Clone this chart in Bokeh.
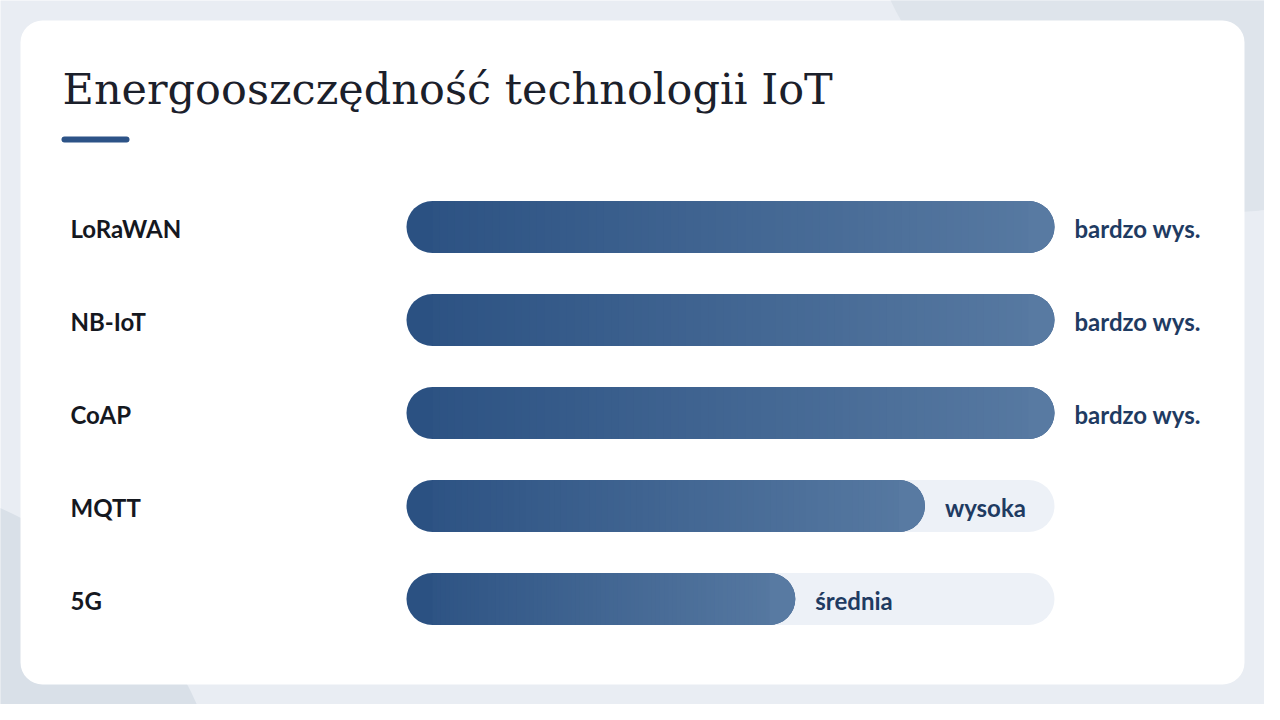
from bokeh.plotting import figure
from bokeh.models import Range1d
from bokeh.embed import file_html
from bokeh.resources import INLINE
from bokeh.core.properties import value

# ---- data ----
categories = ["LoRaWAN", "NB-IoT", "CoAP", "MQTT", "5G"]
scores = [100, 100, 100, 80, 60]
score_labels = ["bardzo wys.", "bardzo wys.", "bardzo wys.", "wysoka", "średnia"]
title_text = "Energooszczędność technologii IoT"
max_score = 100

# ---- layout (figure pixels; page = figure + 8px margin) ----
W, H = 1264, 704
bar_x0_px, bar_x1_px = 406, 1054          # where 0 and max_score land
px_per_unit = (bar_x1_px - bar_x0_px) / max_score
row_top_px, row_step_px = 226.5, 93
bar_h_px = 52
radius_px = 26

dark = (0x2b, 0x51, 0x82)
light = (0x58, 0x7a, 0xa2)

def mix(f):
    return "#%02x%02x%02x" % tuple(round(a + (b - a) * f) for a, b in zip(dark, light))

p = figure(width=W, height=H, output_backend="svg", toolbar_location=None,
           x_range=Range1d(-bar_x0_px / px_per_unit, (W - bar_x0_px) / px_per_unit),
           y_range=Range1d(H, 0), min_border=0, x_axis_type=None, y_axis_type=None)
p.extra_x_ranges = {"px": Range1d(0, W)}
p.grid.visible = False
p.outline_line_color = None
p.background_fill_color = "#e9edf3"
p.border_fill_color = "#e9edf3"

# decorative background shapes
p.ellipse(x=1222, y=-168, width=740, height=760, fill_color="#dee4eb", line_color=None, x_range_name="px")
p.ellipse(x=-158, y=862, width=776, height=776, fill_color="#d9e0e8", line_color=None, x_range_name="px")

# card
p.quad(left=20, right=1244, top=20, bottom=684, fill_color="#ffffff", line_color=None,
       border_radius=22, x_range_name="px")

# title + accent
p.text(x=[62], y=[88], text=[title_text], text_font=value("DejaVu Serif"),
       text_font_size="43px", text_color="#1b202b", text_baseline="middle",
       text_align="left", x_range_name="px")
p.quad(left=61, right=129, top=136, bottom=142, fill_color="#2d5387", line_color=None,
       border_radius=3, x_range_name="px")

ys = [row_top_px + i * row_step_px for i in range(len(categories))]

# category labels
p.text(x=[70] * len(categories), y=[y + 1 for y in ys], text=categories, text_font=value("Lato"),
       text_font_style="bold", text_font_size="24px", text_color="#15181f",
       text_baseline="middle", text_align="left", x_range_name="px")

# tracks
p.hbar(y=ys, left=0, right=max_score, height=bar_h_px, fill_color="#edf1f7",
       line_color=None, border_radius=radius_px)

# gradient bars
r_u = radius_px / px_per_unit
n = 80
for y, v in zip(ys, scores):
    p.hbar(y=[y], left=[0], right=[v], height=bar_h_px, fill_color=mix(0),
           line_color=None, border_radius=radius_px)
    p.hbar(y=[y], left=[v / 2], right=[v], height=bar_h_px, fill_color=mix(1),
           line_color=None, border_radius=radius_px)
    span = v - 2 * r_u
    step = span / n
    lefts = [r_u + k * step for k in range(n)]
    rights = [l + step * 1.6 for l in lefts]
    rights[-1] = v - r_u
    cols = [mix((l + step / 2) / v) for l in lefts]
    p.hbar(y=[y] * n, left=lefts, right=rights, height=bar_h_px, fill_color=cols,
           line_color=None)

# value labels
p.text(x=scores, y=[y + 1 for y in ys], text=score_labels, x_offset=20,
       text_font=value("Lato"), text_font_style="bold", text_font_size="24px",
       text_color="#1f3b62", text_baseline="middle", text_align="left")

open("out.html", "w").write(file_html(p, INLINE))
